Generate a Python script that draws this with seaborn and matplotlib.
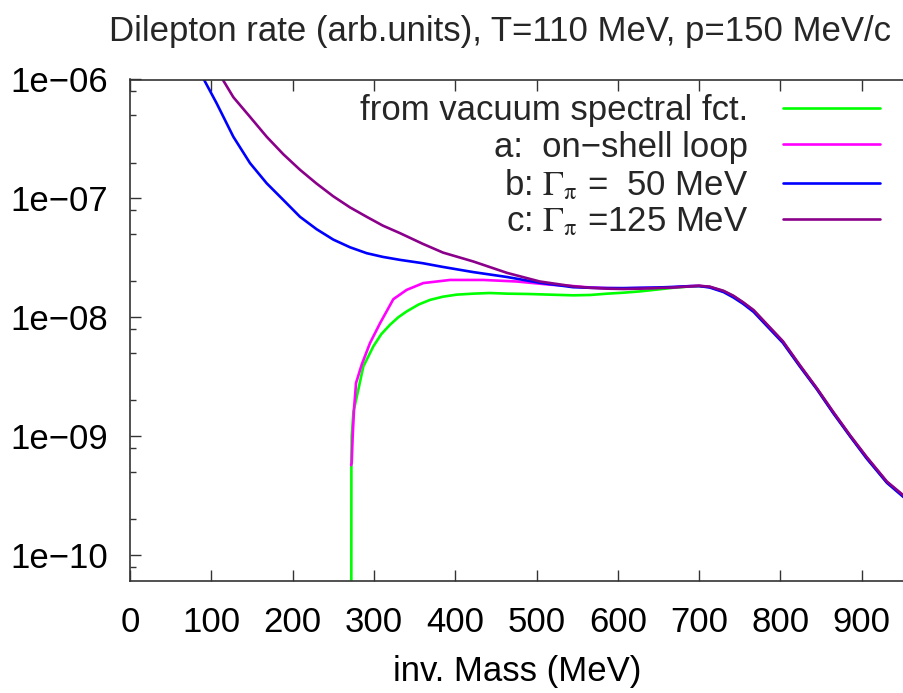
import numpy as np
import pandas as pd
import matplotlib
matplotlib.use("Agg")
import matplotlib.pyplot as plt
import seaborn as sns
from matplotlib.ticker import LogLocator, NullFormatter

# data (inv. mass in MeV, rate in arb. units)

# vacuum spectral function
x_vac = [272, 272.3, 272.7, 274.8, 280.8, 287, 299.3, 309, 319.8, 330, 340.3, 355,
         369, 385, 401.8, 422, 442.8, 464, 490, 516.6, 545, 566, 587, 607,
         627, 648, 668, 690, 700, 713, 730, 742, 754, 767, 783, 803, 824, 845,
         865, 886, 906, 931, 952]
y_vac = [1e-13, 5.7e-10, 1.0e-9, 1.6e-9, 2.46e-9, 3.86e-9, 5.69e-9, 7.2e-9, 8.65e-9,
         1.0e-8, 1.12e-8, 1.28e-8, 1.40e-8, 1.49e-8, 1.55e-8, 1.58e-8, 1.60e-8,
         1.58e-8, 1.57e-8, 1.55e-8, 1.53e-8, 1.54e-8, 1.58e-8, 1.61e-8,
         1.65e-8, 1.71e-8, 1.77e-8, 1.82e-8, 1.83e-8, 1.80e-8, 1.66e-8, 1.51e-8,
         1.33e-8, 1.14e-8, 8.7e-9, 6.2e-9, 3.9e-9, 2.5e-9, 1.58e-9, 1.0e-9,
         6.6e-10, 4.1e-10, 3.1e-10]

# a: on-shell loop
x_a = [272, 272.7, 273.9, 275.5, 278, 285, 295.2, 307.5, 323.9, 340.3, 360.8,
       393.6, 434.6, 475.6, 516.6, 545, 566, 587, 607, 627, 648, 668, 690,
       700, 713, 730, 742, 754, 767, 783, 803, 824, 845, 865, 886, 906, 931,
       952]
y_a = [5.7e-10, 6.0e-10, 1.0e-9, 1.67e-9, 2.8e-9, 4.0e-9, 6.07e-9, 8.9e-9, 1.42e-8,
       1.70e-8, 1.94e-8, 2.06e-8, 2.06e-8, 2.0e-8, 1.88e-8, 1.83e-8, 1.78e-8,
       1.76e-8, 1.75e-8, 1.76e-8, 1.77e-8, 1.79e-8, 1.83e-8, 1.84e-8, 1.80e-8,
       1.65e-8, 1.5e-8, 1.32e-8, 1.13e-8, 8.65e-9, 6.2e-9, 3.9e-9, 2.5e-9,
       1.58e-9, 1.0e-9, 6.6e-10, 4.1e-10, 3.1e-10]

# b: Gamma_pi = 50 MeV
x_b = [90.9, 106.6, 127.1, 147.6, 168.1, 188.6, 209.1, 229.6, 250.1, 270.6,
       291.1, 311, 332.1, 360, 385, 422, 464, 504, 545, 566, 587, 607, 627,
       648, 668, 690, 700, 713, 730, 742, 754, 767, 783, 803, 824, 845, 865,
       886, 906, 931, 952]
y_b = [1e-6, 6.3e-7, 3.3e-7, 1.98e-7, 1.34e-7, 9.7e-8, 7.0e-8, 5.5e-8, 4.5e-8,
       3.88e-8, 3.46e-8, 3.22e-8, 3.04e-8, 2.85e-8, 2.65e-8, 2.4e-8, 2.18e-8,
       1.95e-8, 1.79e-8, 1.77e-8, 1.76e-8, 1.76e-8, 1.77e-8, 1.78e-8, 1.8e-8,
       1.83e-8, 1.83e-8, 1.78e-8, 1.63e-8, 1.47e-8, 1.3e-8, 1.11e-8, 8.5e-9,
       6.1e-9, 3.85e-9, 2.47e-9, 1.56e-9, 9.9e-10, 6.5e-10, 4.05e-10, 3.05e-10]

# c: Gamma_pi = 125 MeV
x_c = [114, 127.1, 147.6, 168.1, 188.6, 209.1, 229.6, 250.1, 270.6, 291.1,
       311, 332.1, 360, 385, 422, 464, 504, 545, 566, 587, 607, 627, 648,
       668, 690, 700, 713, 730, 742, 754, 767, 783, 803, 824, 845, 865, 886,
       906, 931, 952]
y_c = [1e-6, 7.1e-7, 4.85e-7, 3.3e-7, 2.35e-7, 1.74e-7, 1.33e-7, 1.04e-7, 8.4e-8,
       7.0e-8, 5.9e-8, 5.1e-8, 4.15e-8, 3.5e-8, 2.95e-8, 2.36e-8, 2.0e-8,
       1.82e-8, 1.77e-8, 1.74e-8, 1.73e-8, 1.74e-8, 1.76e-8, 1.78e-8, 1.82e-8,
       1.84e-8, 1.81e-8, 1.67e-8, 1.52e-8, 1.34e-8, 1.15e-8, 8.8e-9, 6.3e-9,
       3.95e-9, 2.52e-9, 1.6e-9, 1.01e-9, 6.7e-10, 4.15e-10, 3.15e-10]

labels = ["from vacuum spectral fct.",
          "a:  on\u2212shell loop",
          r"b: $\Gamma_{\mathrm{\pi}}$ =  50 MeV",
          r"c: $\Gamma_{\mathrm{\pi}}$ =125 MeV"]
colors = ["#00ff00", "#ff00ff", "#0000ff", "#8b008b"]

ytick_vals = [1e-10, 1e-9, 1e-8, 1e-7, 1e-6]
ytick_labels = ["1e\u221210", "1e\u221209", "1e\u221208", "1e\u221207", "1e\u221206"]
xtick_vals = [0, 100, 200, 300, 400, 500, 600, 700, 800, 900]

#%%

sns.set_theme(style="ticks")
plt.rcParams['font.family'] = ['Liberation Sans', 'DejaVu Sans']
plt.rcParams['mathtext.fontset'] = 'stix'
fs = 25

fig = plt.figure(figsize=(9.04, 6.93), dpi=100)
ax = fig.add_axes([130 / 904, 112 / 693, 774 / 904, 501.5 / 693])
ax.set_yscale('log')

series = [(x_vac, y_vac), (x_a, y_a), (x_b, y_b), (x_c, y_c)]
for (xs, ys), lab, col in zip(series, labels, colors):
    df = pd.DataFrame({'mass': xs, 'rate': ys})
    sns.lineplot(data=df, x='mass', y='rate', color=col, lw=1.9,
                 estimator=None, sort=False, label=lab, ax=ax)

ax.set_xlim(0, 952)
ax.set_ylim(6.05e-11, 1e-6)

ax.set_xticks(xtick_vals)
ax.set_xticklabels([str(v) for v in xtick_vals])
ax.set_yticks(ytick_vals)
ax.set_yticklabels(ytick_labels)
ax.yaxis.set_minor_locator(LogLocator(base=10, subs=[2, 5, 8], numticks=20))
ax.yaxis.set_minor_formatter(NullFormatter())

ax.tick_params(which='both', direction='in', top=True, right=False,
               colors='#333333', labelcolor='black', labelsize=fs, width=1.0)
ax.tick_params(which='major', length=8)
ax.tick_params(which='minor', length=4)
ax.tick_params(axis='x', pad=18)
ax.tick_params(axis='y', pad=16)

for side in ['left', 'bottom', 'top']:
    ax.spines[side].set_color('#333333')
    ax.spines[side].set_linewidth(1.2)
ax.spines['right'].set_visible(False)

ax.set_ylabel('')
ax.set_xlabel('inv. Mass (MeV)', fontsize=fs, color='black')
ax.xaxis.set_label_coords(0.5, -(671 - 581) / 501.5)
ax.xaxis.label.set_va('center')

fig.text(500 / 904, 1 - 31 / 693,
         'Dilepton rate (arb.units), T=110 MeV, p=150 MeV/c',
         ha='center', va='center', fontsize=fs)

leg = ax.legend(loc='upper right', bbox_to_anchor=(0.969, 0.971),
                frameon=False, markerfirst=False, fontsize=fs,
                handlelength=2.8, handletextpad=1.0, labelspacing=0.1,
                borderpad=0, borderaxespad=0)

fig.savefig('out.png', dpi=100)
